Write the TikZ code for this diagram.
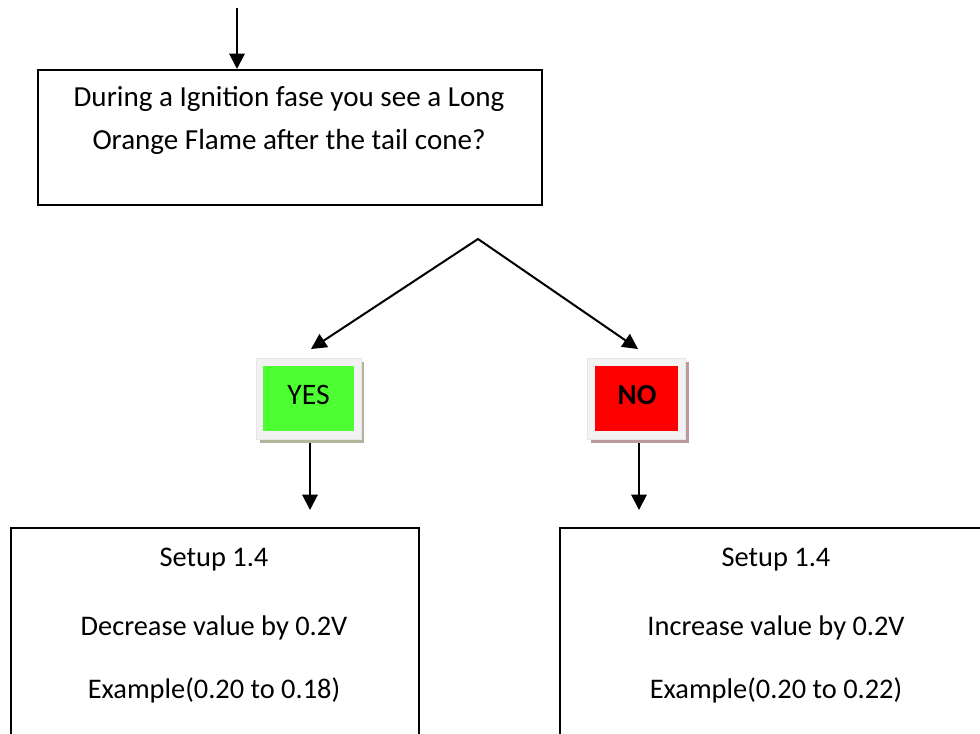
\documentclass[tikz,border=0pt]{standalone}
\usepackage{fontspec}
\setmainfont{Carlito}
\usetikzlibrary{arrows.meta}
\definecolor{yesgreen}{HTML}{4DFF33}
\definecolor{nored}{HTML}{FF0000}
\definecolor{frameg}{HTML}{F2F2F2}
\definecolor{frameedge}{HTML}{E6E6E6}
\definecolor{yesshadow}{HTML}{B3B69C}
\definecolor{noshadow}{HTML}{BA9A9A}
\tikzset{
  box/.style={draw=black, line width=1.5pt, fill=white, rectangle, anchor=north west, inner sep=0pt},
  frame/.style={rectangle, fill=frameg, draw=frameedge, line width=0.5pt, anchor=north west, inner sep=0pt,
                minimum width=78.75pt, minimum height=60.75pt},
  txt/.style={anchor=base, inner sep=0pt, font=\fontsize{21.3}{24}\selectfont},
  qtxt/.style={anchor=base, inner sep=0pt, font=\fontsize{21.8}{24}\selectfont},
  ans/.style={anchor=base, inner sep=0pt, font=\fontsize{22.3}{24}\selectfont},
  arr/.style={line width=1.5pt, -{Triangle[width=11.5pt,length=11.5pt]}},
}
\begin{document}
\begin{tikzpicture}[x=0.75pt,y=-0.75pt]
\clip (0,0) rectangle (980,734);
\fill[white] (0,0) rectangle (980,734);

% question box
\node[box, minimum width=378pt, minimum height=101.25pt] (q) at (37,69) {};
\node[qtxt] (q1) at (289,107) {During a Ignition fase you see a Long};
\node[qtxt] (q2) at (289,150) {Orange Flame after the tail cone?};
\coordinate (start) at (237,8);
\draw[arr] (start) -- (start |- q.north);

% branch
\coordinate (peak) at (478,239);
\coordinate (yestip) at (311,349);
\coordinate (notip) at (638,349);
\draw[line width=1.5pt, line join=miter, {Triangle[width=11.5pt,length=11.5pt]}-{Triangle[width=11.5pt,length=11.5pt]}]
  (yestip) -- (peak) -- (notip);

% YES box
\fill[yesshadow] (260,362) rectangle (364,443);
\node[frame] (yes) at (256,358) {};
\fill[yesgreen] (263,366) rectangle (354,431);
\node[ans] (yest) at (308.5,404) {YES};

% NO box
\fill[noshadow] (591,362) rectangle (689,443);
\node[frame, minimum width=73.5pt] (no) at (587,358) {};
\fill[nored] (595,366) rectangle (678,431);
\node[ans, font=\fontsize{21.8}{24}\selectfont\bfseries] (not) at (637,404) {NO};

% arrows down
\coordinate (yesend) at (310,510);
\coordinate (noend) at (639,510);
\draw[arr] (yesend |- 0,443) -- (yesend);
\draw[arr] (noend |- 0,443) -- (noend);

% result boxes
\node[box, minimum width=306pt, minimum height=180pt] (lb) at (10,527) {};
\node[txt] (l1) at (214,566.5) {Setup 1.4};
\node[txt] (l2) at (214,635) {Decrease value by 0.2V};
\node[txt] (l3) at (214,698) {Example(0.20 to 0.18)};

\node[box, minimum width=325.5pt, minimum height=180pt] (rb) at (559,527) {};
\node[txt] (r1) at (776,566.5) {Setup 1.4};
\node[txt] (r2) at (776,635) {Increase value by 0.2V};
\node[txt] (r3) at (776,698) {Example(0.20 to 0.22)};
\end{tikzpicture}
\end{document}
